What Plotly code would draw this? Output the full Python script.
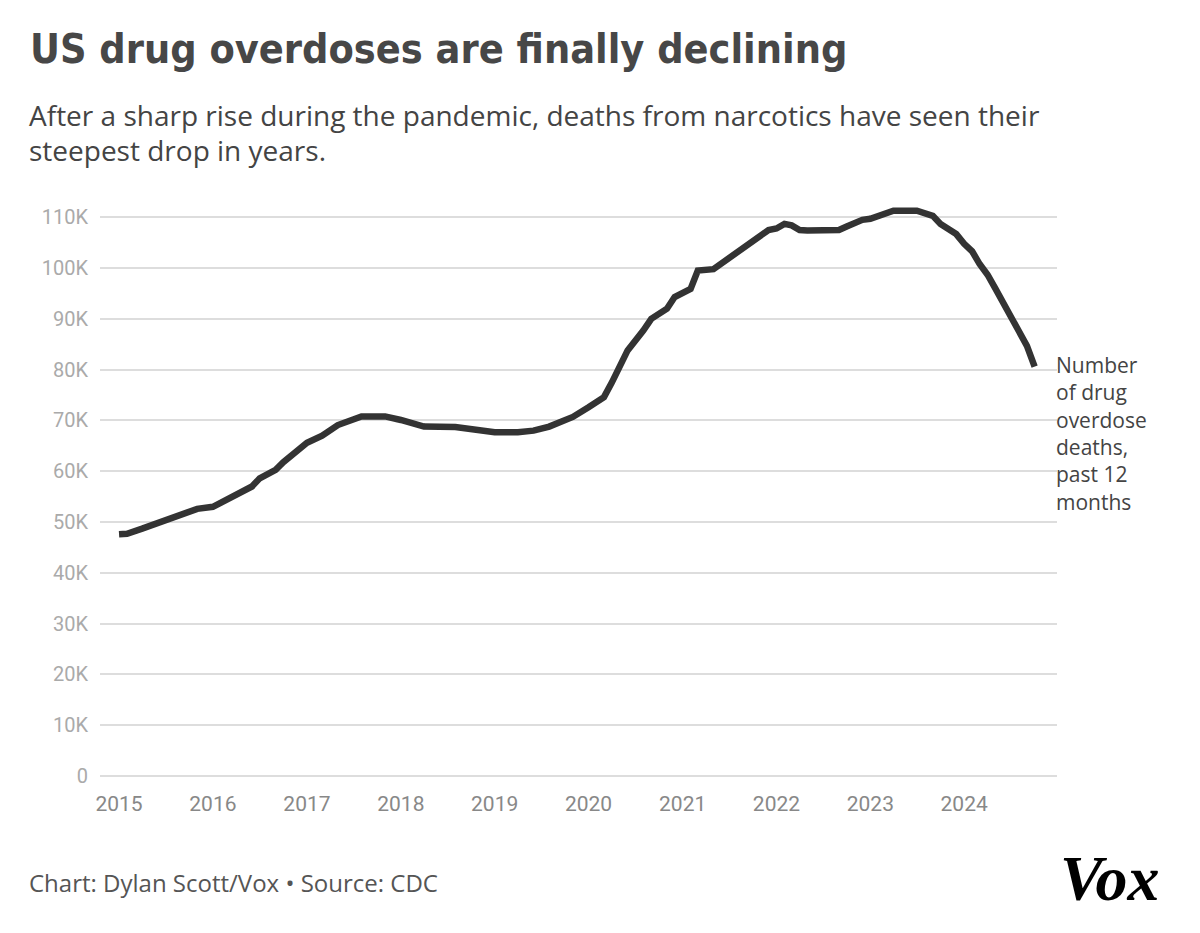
import plotly.graph_objects as go

# 12-month rolling count of US drug overdose deaths
months = [
    "2015-01", "2015-02", "2015-04", "2015-06", "2015-08", "2015-10", "2015-11",
    "2016-01", "2016-03", "2016-05", "2016-06", "2016-07", "2016-09", "2016-10", "2016-12",
    "2017-01", "2017-03", "2017-05", "2017-08", "2017-11",
    "2018-01", "2018-04", "2018-08", "2018-10",
    "2019-01", "2019-04", "2019-06", "2019-08", "2019-09", "2019-11",
    "2020-01", "2020-03", "2020-04", "2020-05", "2020-06", "2020-08", "2020-09", "2020-11", "2020-12",
    "2021-02", "2021-03", "2021-05", "2021-07", "2021-10", "2021-12",
    "2022-01", "2022-02", "2022-03", "2022-04", "2022-05", "2022-07", "2022-09", "2022-10", "2022-12",
    "2023-01", "2023-04", "2023-07", "2023-09", "2023-10", "2023-12",
    "2024-01", "2024-02", "2024-03", "2024-04", "2024-05", "2024-06", "2024-07", "2024-08",
    "2024-09", "2024-10",
]
deaths = [
    47600, 47700, 48700, 49800, 51000, 52100, 52600,
    53000, 54600, 56000, 57000, 58600, 60300, 61800, 64100,
    65600, 67000, 69100, 70800, 70800,
    70100, 68800, 68700, 68400,
    67700, 67700, 68000, 68800, 69400, 70700,
    72600, 74600, 77500, 80500, 83800, 87700, 90000, 92000, 94300,
    95900, 99500, 99800, 102000, 105400, 107500,
    107800, 108700, 108400, 107500, 107400, 107600, 107500, 108200, 109500,
    109700, 111300, 111300, 110300, 108700, 106700,
    104800, 103300, 100800, 98700, 96000, 93200, 90200, 87300,
    84700, 80600,
]

y_ticks = [0, 10000, 20000, 30000, 40000, 50000, 60000, 70000, 80000, 90000, 100000, 110000]
y_tick_text = ["0", "10K", "20K", "30K", "40K", "50K", "60K", "70K", "80K", "90K", "100K", "110K"]
x_ticks = ["2015-01-01", "2016-01-01", "2017-01-01", "2018-01-01", "2019-01-01",
           "2020-01-01", "2021-01-01", "2022-01-01", "2023-01-01", "2024-01-01"]
x_tick_text = ["2015", "2016", "2017", "2018", "2019", "2020", "2021", "2022", "2023", "2024"]

series_label = ["Number", "of drug", "overdose", "deaths,", "past 12", "months"]

# page body has an 8px margin, so the figure is drawn 8px smaller
PAGE_PAD = 8
W, H = 1200 - PAGE_PAD, 933 - PAGE_PAD
# plot area in screen pixels
X0, X1, Y0, Y1 = 100, 1057, 197, 776
L, R = X0 - PAGE_PAD, W - (X1 - PAGE_PAD)
T, B = Y0 - PAGE_PAD, H - (Y1 - PAGE_PAD)


def px(x):
    return (x - X0) / (X1 - X0)


def py(y):
    return (Y1 - y) / (Y1 - Y0)


TITLE_FONT = "DejaVu Sans Condensed, DejaVu Sans, sans-serif"
TEXT_FONT = "Open Sans, Roboto, sans-serif"
TICK_FONT = "Roboto, sans-serif"

fig = go.Figure()
fig.add_trace(
    go.Scatter(
        x=months,
        y=deaths,
        mode="lines",
        line=dict(color="#333333", width=6.5),
        hoverinfo="skip",
        showlegend=False,
    )
)

annotations = [
    dict(text="US drug overdoses are finally declining", x=px(28), y=py(49),
         font=dict(family=TITLE_FONT, size=41, color="#474747", weight="bold")),
    dict(text="After a sharp rise during the pandemic, deaths from narcotics have seen their",
         x=px(27), y=py(115), font=dict(family=TEXT_FONT, size=28, color="#444444")),
    dict(text="steepest drop in years.", x=px(27), y=py(150),
         font=dict(family=TEXT_FONT, size=28, color="#444444")),
    dict(text="Chart: Dylan Scott/Vox \u2022 Source: CDC", x=px(27), y=py(882),
         font=dict(family=TEXT_FONT, size=24, color="#555555")),
    dict(text="<b><i>Vox</i></b>", x=px(1058), y=py(878),
         font=dict(family="Liberation Serif, DejaVu Serif, serif", size=64, color="#000000")),
    # end-of-line label, one text block
    dict(text="<br>".join(series_label), x=px(1054), y=py(433),
         font=dict(family=TEXT_FONT, size=21, color="#444444")),
]
for a in annotations:
    a.update(xref="paper", yref="paper", xanchor="left", yanchor="middle",
             showarrow=False, align="left")

fig.update_layout(
    width=W,
    height=H,
    margin=dict(l=L, r=R, t=T, b=B),
    paper_bgcolor="white",
    plot_bgcolor="white",
    annotations=annotations,
    xaxis=dict(
        range=["2014-10-19", "2024-12-27"],
        tickvals=x_ticks,
        ticktext=x_tick_text,
        showgrid=False,
        zeroline=False,
        showline=False,
        ticks="",
        tickfont=dict(family=TICK_FONT, size=21, color="#888888"),
        ticklabelstandoff=13,
    ),
    yaxis=dict(
        range=[0, 114000],
        tickvals=y_ticks,
        ticktext=y_tick_text,
        showgrid=True,
        gridcolor="#dddddd",
        gridwidth=1.5,
        zeroline=True,
        zerolinecolor="#dddddd",
        zerolinewidth=1.5,
        showline=False,
        ticks="",
        tickfont=dict(family=TICK_FONT, size=20, color="#aaaaaa"),
        ticklabelstandoff=11,
    ),
)

fig.write_html("out.html")
